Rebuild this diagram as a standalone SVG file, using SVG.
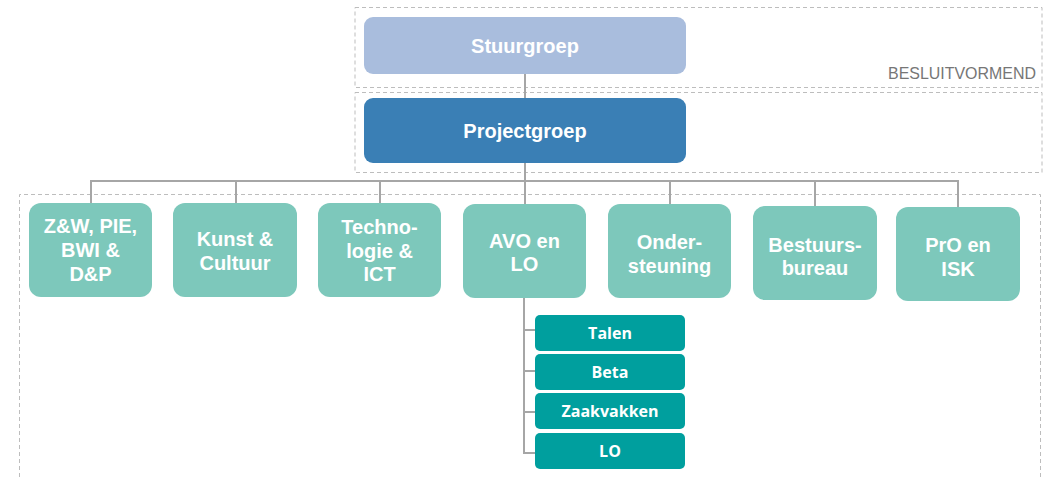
<svg xmlns="http://www.w3.org/2000/svg" width="1052" height="477" viewBox="0 0 1052 477">
<style>
.frame{fill:none;stroke:#BDBDBD;stroke-width:1;stroke-dasharray:4,3}
.conn{fill:none;stroke:#A6A6A6;stroke-width:2}
.unit{fill:#7DC8BB}
.sub{fill:#009F9E}
.t{font-family:"Liberation Sans",Arial,sans-serif;font-weight:bold;fill:#FFFFFF;text-anchor:middle;font-size:20px}
.ts{font-family:"Open Sans","Liberation Sans",sans-serif;font-weight:bold;fill:#FFFFFF;text-anchor:middle;font-size:16px}
.lbl{font-family:"Liberation Sans",Arial,sans-serif;fill:#767676;font-size:16.5px;text-anchor:end}
</style>
<rect width="1052" height="477" fill="#FFFFFF"/>
<g id="frames">
<rect class="frame" x="355" y="7.5" width="687" height="80"/>
<rect class="frame" x="355" y="92.5" width="687" height="80"/>
<path class="frame" d="M19.5,477 V194.5 H1040.5 V477"/>
<text class="lbl" x="1036" y="79" textLength="148" lengthAdjust="spacingAndGlyphs">BESLUITVORMEND</text>
</g>
<g id="connectors">
<path class="conn" d="M525,74 V98"/>
<path class="conn" d="M525,163 V181"/>
<path class="conn" d="M91,203 V181 H958 V207"/>
<path class="conn" d="M236,181 V203"/>
<path class="conn" d="M380,181 V203"/>
<path class="conn" d="M525,181 V204"/>
<path class="conn" d="M670,181 V204"/>
<path class="conn" d="M815,181 V206"/>
<path class="conn" d="M524,298 V453 H535"/>
<path class="conn" d="M524,330 H535"/>
<path class="conn" d="M524,371 H535"/>
<path class="conn" d="M524,412 H535"/>
</g>
<g id="stuurgroep">
<rect x="364" y="17" width="322" height="57" rx="9" fill="#A9BDDD"/>
<text class="t" x="525" y="53">Stuurgroep</text>
</g>
<g id="projectgroep">
<rect x="364" y="98" width="322" height="65" rx="9" fill="#3A7FB5"/>
<text class="t" x="525" y="138">Projectgroep</text>
</g>
<g id="zw">
<rect class="unit" x="29" y="203" width="123" height="94" rx="12"/>
<text class="t" x="90.5" y="233">Z&amp;W, PIE,</text>
<text class="t" x="90.5" y="257">BWI &amp;</text>
<text class="t" x="90.5" y="281">D&amp;P</text>
</g>
<g id="kunst">
<rect class="unit" x="173" y="203" width="124" height="94" rx="12"/>
<text class="t" x="235" y="246">Kunst &amp;</text>
<text class="t" x="235" y="270">Cultuur</text>
</g>
<g id="techno">
<rect class="unit" x="318" y="203" width="123" height="94" rx="12"/>
<text class="t" x="379.5" y="234">Techno-</text>
<text class="t" x="379.5" y="258">logie &amp;</text>
<text class="t" x="379.5" y="281">ICT</text>
</g>
<g id="avo">
<rect class="unit" x="463" y="204" width="123" height="94" rx="12"/>
<text class="t" x="524.5" y="248">AVO en</text>
<text class="t" x="524.5" y="271">LO</text>
</g>
<g id="onder">
<rect class="unit" x="608" y="204" width="123" height="94" rx="12"/>
<text class="t" x="669.5" y="249">Onder-</text>
<text class="t" x="669.5" y="273">steuning</text>
</g>
<g id="bestuurs">
<rect class="unit" x="753" y="206" width="124" height="94" rx="12"/>
<text class="t" x="815" y="252">Bestuurs-</text>
<text class="t" x="815" y="275">bureau</text>
</g>
<g id="pro">
<rect class="unit" x="896" y="207" width="124" height="94" rx="12"/>
<text class="t" x="958" y="252">PrO en</text>
<text class="t" x="958" y="276">ISK</text>
</g>
<g id="talen">
<rect class="sub" x="535" y="315" width="150" height="36" rx="5"/>
<text class="ts" x="610" y="338.5">Talen</text>
</g>
<g id="beta">
<rect class="sub" x="535" y="354" width="150" height="36" rx="5"/>
<text class="ts" x="610" y="377.5">Beta</text>
</g>
<g id="zaakvakken">
<rect class="sub" x="535" y="393" width="150" height="36" rx="5"/>
<text class="ts" x="610" y="416.5">Zaakvakken</text>
</g>
<g id="lo">
<rect class="sub" x="535" y="433" width="150" height="36" rx="5"/>
<text class="ts" x="610" y="456.5">LO</text>
</g>
</svg>
